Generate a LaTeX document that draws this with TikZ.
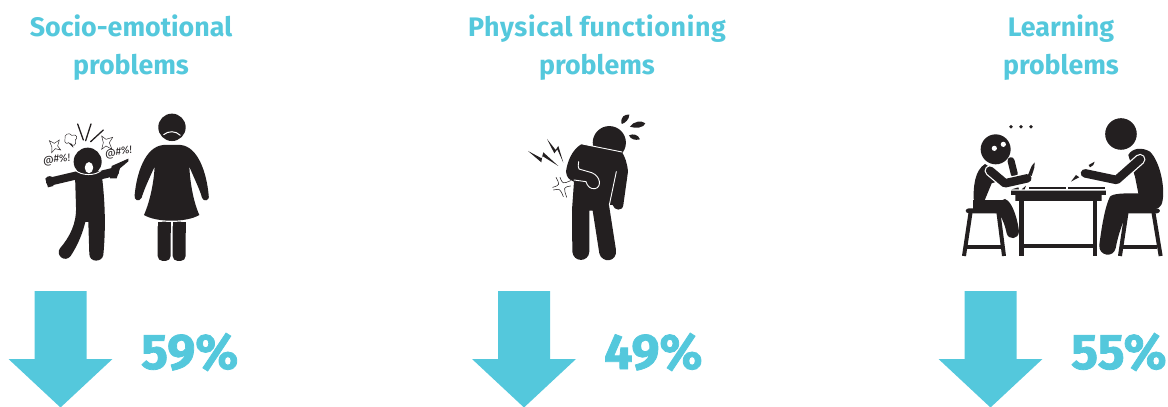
\documentclass[tikz,border=0pt]{standalone}
\usepackage{fontspec}
\setmainfont{Fira Sans}
\newfontfamily\pctfont[BoldFeatures={FakeBold=1.6}]{Fira Sans}
\definecolor{teal}{HTML}{54C8DC}
\definecolor{ink}{HTML}{231F20}
\tikzset{
 title/.style={text=teal,font=\fontsize{26.8}{38}\selectfont\bfseries,align=center,anchor=center,inner sep=0},
 pct/.style={text=teal,font=\pctfont\fontsize{50}{50}\selectfont\bfseries,anchor=west,inner sep=0},
 bigarrow/.style={fill=teal,draw=none},
 limb/.style={draw=ink,line cap=round,line join=round},
 halo/.style={draw=white,line cap=round,line join=round,line width=.9pt},
 blk/.style={fill=ink,draw=none},
 thin outline/.style={draw=ink,line width=.45pt,fill=white,line join=miter},
 swear/.style={text=ink,font=\fontsize{10.5}{10.5}\selectfont\itshape,inner sep=0},
 zoomA/.style={shift={(20,100)},x=.3333pt,y=-.3333pt},
 zoomB/.style={shift={(510,100)},x=.3333pt,y=-.3333pt},
 zoomC/.style={shift={(950,100)},x=.3333pt,y=-.3333pt},
}
\newcommand{\downarrowshape}[1]{%
 \fill[bigarrow] (#1-26,291) -- (#1+26,291) -- (#1+26,359) -- (#1+52,359) -- (#1,407.5) -- (#1-52,359) -- (#1-26,359) -- cycle;}
\begin{document}
\begin{tikzpicture}[x=1pt,y=-1pt]
\useasboundingbox (0,0) rectangle (1168,407);
% titles
\node[title] (t1) at (131,48) {Socio-emotional\\problems};
\node[title] (t2) at (597,48) {{\addfontfeature{LetterSpace=2.4}Physical functioning}\\problems};
\node[title] (t3) at (1061,48) {Learning\\problems};
% arrows
\downarrowshape{60.5}
\downarrowshape{524}
\downarrowshape{990.5}
\node[pct] (p1) at (141,352) {59\%};
\node[pct] (p2) at (604,352) {49\%};
\node[pct] (p3) at (1071,352) {55\%};
% ---------- figure 1
\begin{scope}[zoomA]
 % child
 \fill[blk] (203,185) circle[radius=14pt];
 \draw[limb,line width=8pt] (90,245) -- (175,225);
 \fill[blk] (76,236) .. controls (82,226) and (96,226) .. (102,236) -- (100,258) -- (84,262) -- cycle;
 \draw[limb,line width=8.5pt] (235,227) -- (285,215);
 \fill[blk] (275,198) -- (325,176) -- (325,184) -- (300,205) -- (290,235) -- (270,235) -- cycle;
 \fill[blk] (165,222) -- (245,222) .. controls (255,300) and (258,380) .. (250,465)
   .. controls (246,488) and (208,488) .. (208,462) -- (205,366) -- (196,366)
   .. controls (185,410) and (170,440) .. (152,468) .. controls (135,490) and (105,465) .. (120,445)
   .. controls (150,410) and (170,370) .. (168,320) -- cycle;
 \draw[halo] (165,210) .. controls (185,228) and (225,228) .. (243,212);
 \fill[white] (207,203) ellipse[x radius=4.2pt,y radius=5.6pt];
 % anger marks
 \draw[draw=ink,line width=1.3pt,line cap=round] (173,72) -- (190,120);
 \draw[draw=ink,line width=1.3pt,line cap=round] (213,72) -- (197,122);
 \draw[draw=ink,line width=1.3pt,line cap=round] (250,90) -- (212,125);
 \draw[thin outline] (88,122) -- (103,130) -- (118,120) -- (113,138) -- (122,150) -- (106,146) -- (95,158) -- (96,142) -- cycle;
 \draw[thin outline] (245,108) -- (258,118) -- (278,112) -- (268,128) -- (276,148) -- (258,138) -- (245,148) -- (250,128) -- cycle;
 \draw[thin outline] (135,118) .. controls (130,102) and (150,96) .. (155,106) .. controls (172,100) and (174,116) .. (166,120) .. controls (172,135) and (158,142) .. (152,130) -- (160,142) -- (146,128) .. controls (138,134) and (132,126) .. (135,118) -- cycle;
 \node[swear,rotate=8] (s1) at (110,180) {@\#\%!};
 \node[swear,rotate=8] (s2) at (296,158) {@\#\%!};
 % woman
 \fill[blk] (456,82) circle[radius=13.7pt];
 \draw[draw=white,line width=1pt,line cap=round] (431,104) .. controls (445,92) and (467,92) .. (481,106);
 \fill[blk] (372,345) .. controls (392,300) and (402,240) .. (404,200) .. controls (385,240) and (370,275) .. (365,293)
   .. controls (358,308) and (340,300) .. (344,285) .. controls (350,220) and (375,140) .. (430,135)
   -- (482,135) .. controls (535,140) and (560,220) .. (566,285) .. controls (570,304) and (550,306) .. (546,293)
   .. controls (540,270) and (525,240) .. (508,200) .. controls (510,240) and (518,300) .. (538,345)
   .. controls (500,368) and (410,368) .. (372,345) -- cycle;
 \fill[blk,rounded corners=5pt] (413,365) -- (452,365) -- (452,483) -- (413,483) -- cycle;
 \fill[blk,rounded corners=5pt] (458,365) -- (497,365) -- (497,483) -- (458,483) -- cycle;
 \fill[blk] (413,365) rectangle (452,400);
 \fill[blk] (458,365) rectangle (497,400);
\end{scope}
% ---------- figure 2
\begin{scope}[zoomB]
 \fill[blk] (298,128) circle[radius=16.6pt];
 \fill[blk] (215,132) .. controls (185,150) and (172,185) .. (168,215)
   .. controls (170,235) and (180,240) .. (192,245) -- (186,330) -- (187,455)
   .. controls (190,488) and (236,488) .. (238,455) -- (238,332) -- (248,332) -- (268,460)
   .. controls (275,490) and (322,488) .. (318,450) -- (297,315) -- (308,315)
   .. controls (312,332) and (338,335) .. (340,315) -- (354,215) .. controls (352,190) and (345,170) .. (335,155) -- cycle;
 \draw[halo] (212,131) -- (336,156);
 \draw[halo] (319,215) -- (298,315);
 \draw[halo] (206,185) .. controls (205,195) and (203,203) .. (207,207) -- (245,218) .. controls (272,228) and (276,262) .. (255,266) .. controls (240,268) and (232,258) .. (228,245) -- (192,240);
 % drops
 \fill[blk] (335,72) .. controls (330,50) and (345,42) .. (358,44) .. controls (358,58) and (345,70) .. (335,72) -- cycle;
 \fill[blk] (360,80) .. controls (370,64) and (395,60) .. (406,70) .. controls (402,84) and (375,86) .. (360,80) -- cycle;
 \fill[blk] (357,106) .. controls (370,100) and (385,104) .. (390,118) .. controls (375,122) and (362,118) .. (357,106) -- cycle;
 % lightning
 \fill[blk] (54,153) -- (95,175) -- (100,157) -- (145,198) -- (97,168) -- (94,187) -- cycle;
 \fill[blk] (111,117) -- (137,150) -- (145,138) -- (160,188) -- (142,148) -- (133,160) -- cycle;
 % burst
 \draw[draw=ink,line width=.55pt,line cap=round] (138,232) .. controls (150,255) .. (128,262)
   (150,232) .. controls (158,252) .. (182,242)
   (182,258) .. controls (160,262) .. (170,292)
   (130,270) .. controls (150,266) .. (160,290);
\end{scope}
% ---------- figure 3
\begin{scope}[zoomC]
 % dots
 \fill[blk] (183,80) circle[radius=1.9pt] (213,80) circle[radius=1.9pt] (243,80) circle[radius=1.9pt];
 % left stool
 \fill[blk,rounded corners=3pt] (47,325) -- (165,325) -- (165,340) -- (47,340) -- cycle;
 \draw[draw=ink,line width=4pt] (62,335) -- (42,468);
 \draw[draw=ink,line width=4pt] (145,335) -- (162,468);
 \draw[draw=ink,line width=4pt] (52,442) -- (152,442);
 % left person
 \fill[blk] (105,192) .. controls (75,210) and (68,260) .. (72,310) .. controls (74,325) and (90,328) .. (100,325)
   -- (165,297) .. controls (190,305) and (205,370) .. (207,395) .. controls (205,420) and (175,420) .. (170,400)
   .. controls (165,375) and (155,350) .. (145,340) -- (90,335) -- (125,250) -- (170,235) -- cycle;
 \fill[blk] (70,300) rectangle (165,340);
 \draw[draw=ink,line width=7pt,line cap=round] (183,182) -- (193,222);
 \fill[blk] (137,148) circle[radius=15pt];
 \draw[draw=white,line width=11pt,line cap=round,line join=round] (120,212) -- (165,250) -- (232,235);
 \draw[draw=ink,line width=8.5pt,line cap=round,line join=round] (120,212) -- (165,250) -- (232,235);
 \fill[white] (133,145) circle[radius=2.6pt] (160,133) circle[radius=2.6pt];
 \fill[blk] (234,225) -- (245,198) -- (254,187) -- (253,203) -- (245,228) -- cycle;
 \fill[blk] (185,268) -- (205,262) -- (207,268) -- cycle;
 \fill[blk] (215,268) -- (228,257) -- (224,268) -- cycle;
 % table
 \fill[blk] (183,272) -- (468,272) -- (468,285) -- (455,285) -- (455,303) -- (196,303) -- (196,285) -- (183,285) -- cycle;
 \fill[blk] (208,300) rectangle (222,468);
 \fill[blk] (428,300) rectangle (442,468);
 \fill[blk] (222,432) rectangle (428,445);
 \fill[blk] (237,262) rectangle (348,267);
 \fill[blk] (354,262) rectangle (465,267);
 % right stool
 \fill[blk,rounded corners=3pt] (525,325) -- (630,325) -- (630,340) -- (525,340) -- cycle;
 \draw[draw=ink,line width=4pt] (530,335) -- (510,468);
 \draw[draw=ink,line width=4pt] (610,335) -- (632,468);
 \draw[draw=ink,line width=4pt] (520,442) -- (622,442);
 % right person
 \fill[blk] (513,102) circle[radius=15.8pt];
 \fill[blk] (535,165) .. controls (545,145) and (575,140) .. (600,155) .. controls (630,185) and (645,260) .. (638,300)
   .. controls (635,325) and (620,328) .. (605,328) -- (540,328) .. controls (525,345) and (505,400) .. (497,445)
   .. controls (490,475) and (445,468) .. (448,435) .. controls (455,380) and (465,320) .. (480,290)
   .. controls (490,280) and (520,280) .. (565,280) -- (555,230) -- cycle;
 \draw[draw=white,line width=11pt,line cap=round,line join=round] (405,220) -- (500,240) -- (570,178);
 \draw[draw=ink,line width=8.5pt,line cap=round,line join=round] (405,220) -- (500,240) -- (570,178);
 \fill[blk] (416,195) -- (434,185) -- (430,195) -- (420,202) -- cycle;
 \fill[blk] (363,245) -- (378,225) -- (388,232) -- (372,240) -- cycle;
\end{scope}
\end{tikzpicture}
\end{document}
